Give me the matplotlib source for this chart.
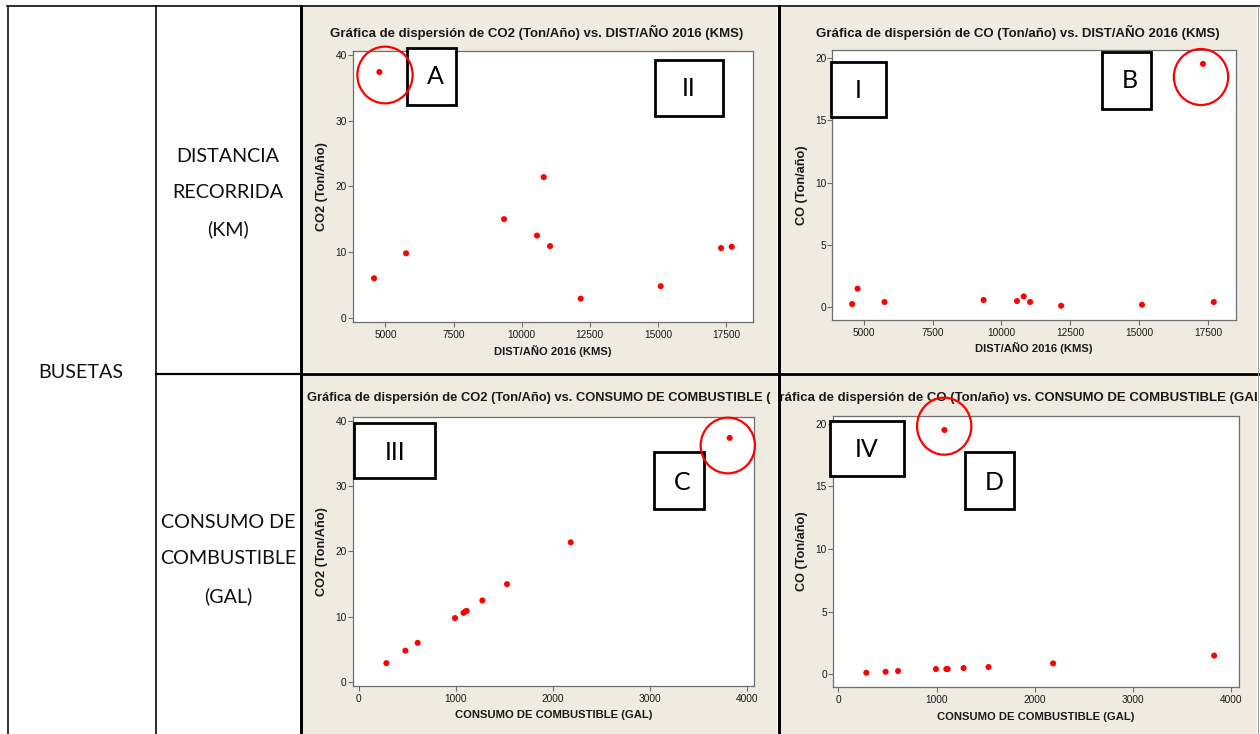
import matplotlib
matplotlib.use("Agg")
import matplotlib.pyplot as plt
from matplotlib import font_manager
from matplotlib.patches import Rectangle, Ellipse
from matplotlib.lines import Line2D
from matplotlib.transforms import Bbox, TransformedBbox

# ---- data: one entry per bus (busetas) ----
dist_km = [4780, 4584, 5758, 9354, 10565, 10810, 11042, 12167, 15103, 17317, 17708]
co2_ton = [37.4, 6.0, 9.8, 15.0, 12.5, 21.4, 10.9, 2.9, 4.8, 10.6, 10.8]
co_ton = [1.5, 0.27, 0.43, 0.59, 0.51, 0.88, 0.43, 0.13, 0.21, 19.5, 0.43]
fuel_gal = [3825, 608, 993, 1529, 1275, 2186, 1113, 285, 481, 1080, 1100]

dist_ticks = [5000, 7500, 10000, 12500, 15000, 17500]
fuel_ticks = [0, 1000, 2000, 3000, 4000]
co2_ticks = [0, 10, 20, 30, 40]
co_ticks = [0, 5, 10, 15, 20]

W, H = 1260, 734
BEIGE = "#EFEBE1"
RED = "#FF0000"
SPINE = "#6E6E6E"


def has_font(name):
    try:
        font_manager.findfont(font_manager.FontProperties(family=name),
                              fallback_to_default=False)
        return True
    except Exception:
        return False


NARROW = "Liberation Sans Narrow" if has_font("Liberation Sans Narrow") else None
TITLE_FONT = [NARROW, "Liberation Sans"] if NARROW else ["Liberation Sans"]
TITLE_SIZE = 11.4 if NARROW else 9.5
LABEL_SIZE = 9.7 if NARROW else 8.1
YLABEL_SIZE = 11.0 if NARROW else 9.2
TICK_FONT = ["Liberation Sans"]
TABLE_FONT = ["Lato", "DejaVu Sans"]

fig = plt.figure(figsize=(W / 100, H / 100), dpi=100)
fig.patch.set_facecolor("white")


def fx(x):
    return x / W


def fy(y):
    return 1 - y / H


def px_rect(l, t, r, b):
    return [fx(l), fy(b), (r - l) / W, (b - t) / H]


def hline(y, x0, x1, lw=1.5, color="black"):
    fig.add_artist(Line2D([fx(x0), fx(x1)], [fy(y), fy(y)], transform=fig.transFigure,
                          color=color, lw=lw * 0.72, zorder=6))


def vline(x, y0, y1, lw=1.5, color="black"):
    fig.add_artist(Line2D([fx(x), fx(x)], [fy(y0), fy(y1)], transform=fig.transFigure,
                          color=color, lw=lw * 0.72, zorder=6))


# ---- beige panel regions ----
panels = {
    "p1": (302, 7, 777, 372),
    "p2": (780, 7, 1257, 372),
    "p3": (302, 375, 777, 734),
    "p4": (780, 375, 1257, 734),
}
for l, t, r, b in panels.values():
    fig.add_artist(Rectangle((fx(l), fy(b)), (r - l) / W, (b - t) / H,
                             transform=fig.transFigure, facecolor=BEIGE,
                             edgecolor="none", zorder=-5))

# ---- table grid ----
hline(6, 7, W, lw=1.6)
vline(7.5, 6, H, lw=1.6)
vline(155.5, 6, H, lw=1.6)
hline(373.5, 156, 302, lw=2.2)
hline(373.5, 302, W, lw=2.8)
vline(301, 6, H, lw=3.0)
vline(778.5, 6, H, lw=3.0)
vline(1257.5, 6, H, lw=1.0, color="#9A9A9A")

# ---- table text ----
fig.text(fx(81), fy(372), "BUSETAS", ha="center", va="center",
         family=TABLE_FONT, fontsize=14.2, color="#111111")
for txt, yy in [("DISTANCIA", 156), ("RECORRIDA", 192), ("(KM)", 229)]:
    fig.text(fx(228), fy(yy), txt, ha="center", va="center",
             family=TABLE_FONT, fontsize=14.2, color="#111111")
for txt, yy in [("CONSUMO DE", 522), ("COMBUSTIBLE", 559), ("(GAL)", 596)]:
    fig.text(fx(228), fy(yy), txt, ha="center", va="center",
             family=TABLE_FONT, fontsize=14.2, color="#111111")


def scatter_panel(key, rect, x, y, xlim, ylim, xticks, yticks, title, title_xy,
                  xlabel, ylabel, xlabel_y, ylabel_x, clip_right=None, title_ha="center",
                  title_size=TITLE_SIZE):
    l, t, r, b = rect
    ax = fig.add_axes(px_rect(l, t, r, b))
    ax.set_facecolor("white")
    ax.scatter(x, y, s=19, color=RED, edgecolors="none", zorder=3)
    ax.set_xlim(*xlim)
    ax.set_ylim(*ylim)
    ax.set_xticks(xticks)
    ax.set_yticks(yticks)
    for sp in ax.spines.values():
        sp.set_color(SPINE)
        sp.set_linewidth(0.9)
    ax.tick_params(axis="both", direction="out", length=3.6, width=0.8,
                   color=SPINE, labelcolor="#1A1A1A", labelsize=7.3)
    ax.tick_params(axis="x", pad=2.2)
    ax.tick_params(axis="y", pad=0.8)
    for lab in ax.get_xticklabels() + ax.get_yticklabels():
        lab.set_family(TICK_FONT)

    pl, pt, pr, pb = panels[key]
    cr = clip_right if clip_right is not None else pr
    clip = TransformedBbox(Bbox.from_extents(fx(pl), fy(pb), fx(cr), fy(pt)),
                           fig.transFigure)
    tt = fig.text(fx(title_xy[0]), fy(title_xy[1]), title, ha=title_ha, va="center",
                  family=TITLE_FONT, fontweight="bold", fontsize=title_size,
                  color="#1A1A1A")
    tt.set_clip_box(clip)
    tt.set_clip_on(True)
    fig.text(fx((l + r) / 2), fy(xlabel_y), xlabel, ha="center", va="center",
             family=TITLE_FONT, fontweight="bold", fontsize=LABEL_SIZE, color="#1A1A1A")
    fig.text(fx(ylabel_x), fy((t + b) / 2), ylabel, ha="center", va="center",
             rotation=90, family=TITLE_FONT, fontweight="bold", fontsize=YLABEL_SIZE,
             color="#1A1A1A")
    return ax


ax1 = scatter_panel("p1", (352.7, 51, 752.7, 321.7), dist_km, co2_ton,
                    (3801, 18478), (-0.61, 40.6), dist_ticks, co2_ticks,
                    "Gráfica de dispersión de CO2 (Ton/Año) vs. DIST/AÑO 2016 (KMS)",
                    (537, 32), "DIST/AÑO 2016 (KMS)", "CO2 (Ton/Año)", 351, 322)
ax2 = scatter_panel("p2", (832.3, 50.3, 1235.7, 320), dist_km, co_ton,
                    (3863, 18504), (-1.01, 20.59), dist_ticks, co_ticks,
                    "Gráfica de dispersión de CO (Ton/año) vs. DIST/AÑO 2016 (KMS)",
                    (1018, 32), "DIST/AÑO 2016 (KMS)", "CO (Ton/año)", 348.5, 802)
ax3 = scatter_panel("p3", (352.7, 417, 754.3, 685.7), fuel_gal, co2_ton,
                    (-62, 4079), (-0.56, 40.6), fuel_ticks, co2_ticks,
                    "Gráfica de dispersión de CO2 (Ton/Año) vs. CONSUMO DE COMBUSTIBLE (GAL)",
                    (307, 398), "CONSUMO DE COMBUSTIBLE (GAL)", "CO2 (Ton/Año)", 714.5, 322,
                    clip_right=771, title_ha="left", title_size=TITLE_SIZE * 0.975)
ax4 = scatter_panel("p4", (833, 415.7, 1238.7, 686.7), fuel_gal, co_ton,
                    (-54, 4075), (-0.98, 20.64), fuel_ticks, co_ticks,
                    "Gráfica de dispersión de CO (Ton/año) vs. CONSUMO DE COMBUSTIBLE (GAL)",
                    (1018, 398), "CONSUMO DE COMBUSTIBLE (GAL)", "CO (Ton/año)", 716.5, 802)

# ---- annotation boxes and outlier rings ----
boxes = [
    ("A", (406.7, 47.7, 456, 105), (435, 77)),
    ("II", (654.7, 60, 723.3, 115.7), (689, 89)),
    ("I", (830.7, 61.7, 886.3, 117.3), (858, 91)),
    ("B", (1101.7, 51.7, 1151, 109), (1130, 81)),
    ("III", (354.3, 422.7, 435, 478.3), (395, 452)),
    ("C", (654, 451.7, 703.7, 509), (682.5, 482)),
    ("IV", (829.7, 420.7, 904.3, 476.3), (867, 450)),
    ("D", (964.7, 451.7, 1014.3, 509.3), (994, 482)),
]
for label, (l, t, r, b), (tx, ty) in boxes:
    fig.add_artist(Rectangle((fx(l), fy(b)), (r - l) / W, (b - t) / H,
                             transform=fig.transFigure, facecolor="white",
                             edgecolor="black", lw=2.0, zorder=8))
    fig.text(fx(tx), fy(ty), label, ha="center", va="center", family=TABLE_FONT,
             fontsize=18, color="black", zorder=9)

rings = [(385, 75, 55.3, 56.7), (1201, 77, 54.3, 56),
         (727.8, 445.5, 54.3, 55.7), (944.2, 426.2, 54.3, 57)]
for cx, cy, w, h in rings:
    fig.add_artist(Ellipse((fx(cx), fy(cy)), w / W, h / H, transform=fig.transFigure,
                           facecolor="none", edgecolor=RED, lw=1.6, zorder=8))

fig.savefig("out.png", dpi=100, facecolor=fig.get_facecolor())
